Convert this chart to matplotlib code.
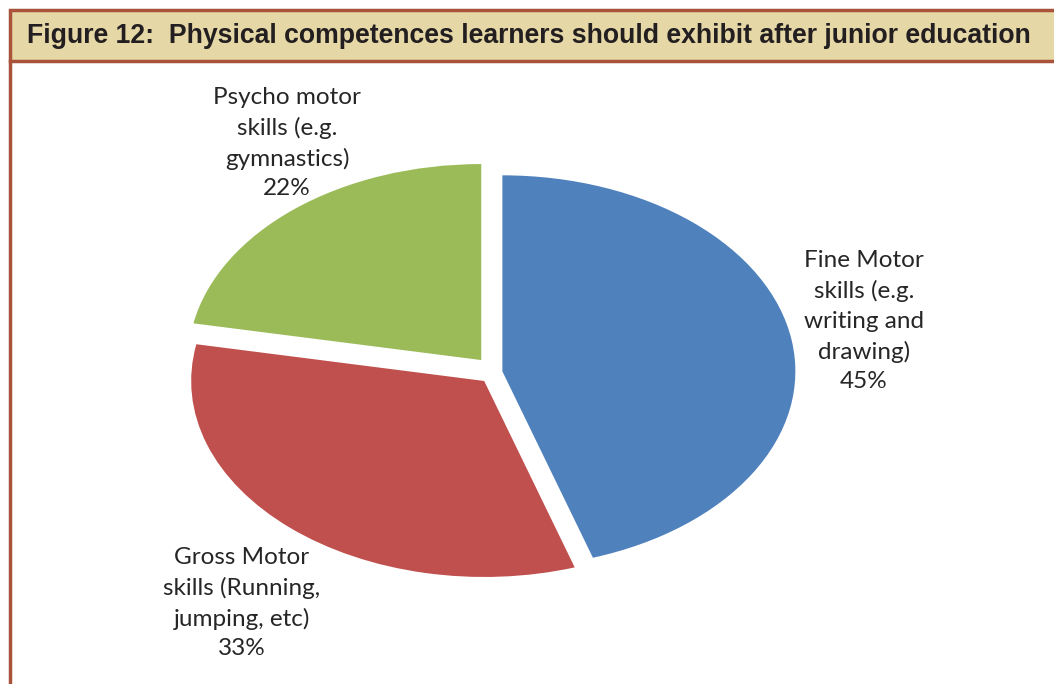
import matplotlib
matplotlib.use("Agg")
import matplotlib.pyplot as plt
from matplotlib.patches import Rectangle
from matplotlib.lines import Line2D

# Data
categories = ["Fine Motor\nskills (e.g.\nwriting and\ndrawing)",
              "Gross Motor\nskills (Running,\njumping, etc)",
              "Psycho motor\nskills (e.g.\ngymnastics)"]
shares = [45, 33, 22]
colors = ["#4F81BD", "#C0504D", "#9BBB59"]
title = "Figure 12:  Physical competences learners should exhibit after junior education"

W, H = 1054, 684
fig = plt.figure(figsize=(W / 100, H / 100), dpi=100)
fig.patch.set_facecolor("white")

BORDER = "#A9533A"

# Header band
fig.patches.append(Rectangle((10 / W, 1 - 61 / H), (W - 10) / W + 0.01, 51 / H,
                             transform=fig.transFigure, facecolor="#E5D8A6",
                             edgecolor=BORDER, linewidth=2.5, zorder=1))
fig.lines.append(Line2D([10 / W, 10 / W], [0, 1 - 61 / H], transform=fig.transFigure,
                        color=BORDER, linewidth=2.5))
fig.text(27 / W, 1 - 36 / H, title, ha="left", va="center", fontsize=19.2,
         fontweight="bold", family="Liberation Sans", color="#231F20")

# Pie, drawn as an ellipse
cx, cy = 496, 372
rx, ry = 293, 196
span = 1.1
ax = fig.add_axes([(cx - span * rx) / W, (H - cy - span * ry) / H,
                   2 * span * rx / W, 2 * span * ry / H])
ax.pie(shares, colors=colors, startangle=90, counterclock=False,
       explode=[0.022, 0.061, 0.079], wedgeprops=dict(linewidth=0))
ax.set_aspect("auto")
ax.set_xlim(-span, span)
ax.set_ylim(-span, span)
ax.axis("off")

# Data labels
label_font = dict(family="Lato", fontsize=17.5, color="#262626",
                  ha="center", va="center", linespacing=1.5)
label_pos = [(864, 321), (242, 603), (287, 143)]
for text, pct, (lx, ly) in zip(categories, shares, label_pos):
    fig.text(lx / W, 1 - ly / H, f"{text}\n{pct}%", **label_font)

fig.savefig("out.png", dpi=100)
